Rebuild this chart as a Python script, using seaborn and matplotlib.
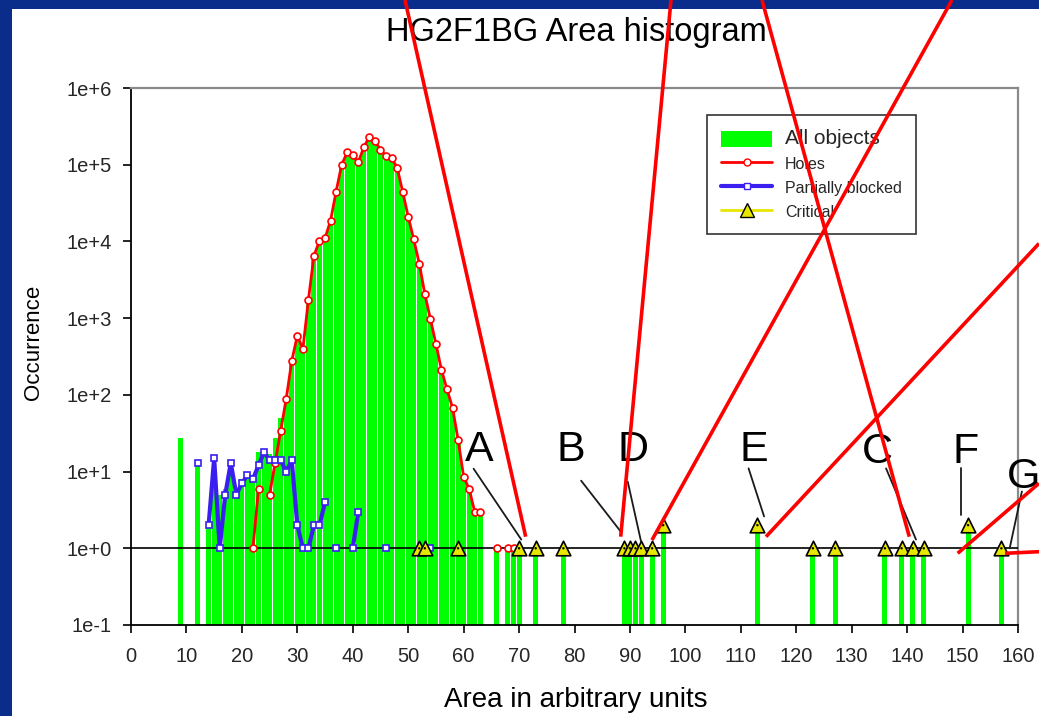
import numpy as np
import pandas as pd
import matplotlib
matplotlib.use("Agg")
import matplotlib.pyplot as plt
from matplotlib.lines import Line2D
from matplotlib.patches import Patch, Rectangle
from matplotlib.ticker import FixedLocator, NullLocator
import seaborn as sns

# ---- histogram data -------------------------------------------------------
# All objects: area bin -> occurrence
area_all = [9, 12, 14, 15, 16, 17, 18, 19, 20, 21, 22, 23, 24, 25, 26, 27,
            28, 29, 30, 31, 32, 33, 34, 35, 36, 37, 38, 39, 40, 41, 42, 43,
            44, 45, 46, 47, 48, 49, 50, 51, 52, 53, 54, 55, 56, 57, 58, 59,
            60, 61, 62, 63, 66, 68, 69, 70, 73, 78, 89, 90, 91, 92, 94, 96,
            113, 123, 127, 136, 139, 141, 143, 151, 157]
count_all = [27, 13, 2, 9, 5, 6, 9, 6, 8, 9, 9, 18, 18, 17, 27, 50,
             90, 280, 600, 400, 1750, 6500, 10200, 11000, 18700, 45000, 100000, 145000, 132000, 108000, 170000, 233000,
             205000, 156000, 131000, 122000, 92000, 45000, 21000, 10600, 5150, 2070, 980, 460, 212, 118, 68, 26,
             9, 6, 3, 3, 1, 1, 1, 1, 1, 1, 1, 1, 1, 1, 1, 2,
             2, 1, 1, 1, 1, 1, 1, 2, 1]

# Holes
area_holes = [22, 23, 25, 26, 27, 28, 29, 30, 31, 32, 33, 34, 35, 36, 37, 38,
              39, 40, 41, 42, 43, 44, 45, 46, 47, 48, 49, 50, 51, 52, 53, 54,
              55, 56, 57, 58, 59, 60, 61, 62, 63, 66, 68, 69]
count_holes = [1, 6, 5, 13, 34, 89, 277, 593, 393, 1730, 6490, 10200, 11000, 18700, 44700, 99600,
               145000, 132000, 108000, 169000, 233000, 205000, 156000, 131000, 122000, 91900, 44700, 21100, 10600, 5150, 2070, 980,
               462, 212, 118, 68, 26, 8.6, 5.9, 3, 3, 1, 1, 1]

# Partially blocked
area_blocked = [12, 14, 15, 16, 17, 18, 19, 20, 21, 22, 23, 24, 25, 26, 27, 28,
                29, 30, 31, 32, 33, 34, 35, 37, 40, 41, 46, 54]
count_blocked = [13, 2, 15, 1, 5, 13, 5, 7, 9, 8, 12, 18, 14, 14, 14, 10,
                 14, 2, 1, 1, 2, 2, 4, 1, 1, 3, 1, 1]

# Critical
area_critical = [52, 53, 59, 70, 73, 78, 89, 90, 91, 92, 94, 96, 113, 123,
                 127, 136, 139, 141, 143, 151, 157]
count_critical = [1, 1, 1, 1, 1, 1, 1, 1, 1, 1, 1, 2, 2, 1,
                  1, 1, 1, 1, 1, 2, 1]

x_ticks = list(range(0, 161, 10))
y_ticks = [1e-1, 1e0, 1e1, 1e2, 1e3, 1e4, 1e5, 1e6]
y_ticklabels = ["1e-1", "1e+0", "1e+1", "1e+2", "1e+3", "1e+4", "1e+5", "1e+6"]

# callout letters: label, text position, leader start, leader end (data coords)
callouts = [
    ("A", (62.9, 19.3), (61.8, 10.9), (70.4, 1.30)),
    ("B", (79.4, 19.3), (81.2, 7.6), (88.4, 1.63)),
    ("D", (90.5, 19.3), (89.6, 7.4), (92.0, 1.23)),
    ("E", (112.4, 19.3), (111.4, 11.0), (114.2, 2.6)),
    ("C", (134.6, 18.2), (136.2, 11.0), (141.6, 1.30)),
    ("F", (150.6, 18.2), (149.8, 11.0), (149.8, 2.68)),
    ("G", (161.1, 8.4), (160.7, 5.5), (158.5, 1.0)),
]

# slide pointer lines, in figure pixels
W, H = 1039, 716
pointers = [
    ((405, 0), (525.7, 536.7)),
    ((671, 0), (620.7, 536.7)),
    ((762, 0), (909.3, 536.7)),
    ((952, 0), (652, 540)),
    ((1039, 243.5), (766, 536.7)),
    ((1039, 483.3), (957.7, 553.3)),
    ((1039, 551.7), (1005, 553.3)),
]

GREEN = "#00ff00"
RED = "#ff0000"
BLUE = "#3a1ff0"
YELLOW = "#e6e600"
SLIDE_BLUE = "#0a2c8a"


def segments(xs):
    """Group consecutive bins so that empty bins break the line."""
    xs = np.asarray(xs)
    return np.concatenate([[0], np.cumsum(np.diff(xs) > 1)])


sns.set_style("white")
plt.rcParams["font.family"] = ["Liberation Sans", "DejaVu Sans"]

fig = plt.figure(figsize=(W / 100, H / 100), dpi=100)
fig.patch.set_facecolor(SLIDE_BLUE)
fig.add_artist(Rectangle((12 / W, 0), 1 - 12 / W, 1 - 9 / H,
                         transform=fig.transFigure, facecolor="white",
                         edgecolor="none", zorder=-5))

ax = fig.add_axes([131 / W, 1 - 625 / H, (1018 - 131) / W, (625 - 88) / H])
ax.set_facecolor("white")

df_all = pd.DataFrame({"area": area_all, "count": count_all})
sns.barplot(data=df_all, x="area", y="count", native_scale=True,
            width=0.9, color=GREEN, saturation=1, errorbar=None, ax=ax,
            linewidth=0, edgecolor="none", zorder=2)
ax.set_yscale("log")

ax.axhline(1, color="black", lw=1.2, zorder=3)

df_holes = pd.DataFrame({"area": area_holes, "count": count_holes,
                         "seg": segments(area_holes)})
sns.lineplot(data=df_holes, x="area", y="count", units="seg", estimator=None,
             color=RED, lw=2, marker="o", markersize=5,
             markerfacecolor="white", markeredgecolor=RED,
             markeredgewidth=1.2, ax=ax, zorder=4, legend=False)

df_blocked = pd.DataFrame({"area": area_blocked, "count": count_blocked,
                           "seg": segments(area_blocked)})
sns.lineplot(data=df_blocked, x="area", y="count", units="seg",
             estimator=None, color=BLUE, lw=3, marker="s", markersize=5,
             markerfacecolor="white", markeredgecolor=BLUE,
             markeredgewidth=1.2, ax=ax, zorder=5, legend=False)

sns.scatterplot(x=area_critical, y=count_critical, marker="^", s=110,
                color=YELLOW, edgecolor="black", linewidth=1.2, ax=ax,
                zorder=6, legend=False)
sns.scatterplot(x=area_critical, y=count_critical, marker="o", s=3,
                color="black", edgecolor="none", ax=ax, zorder=7,
                legend=False)

for label, txt, start, end in callouts:
    ax.text(*txt, label, fontsize=31, ha="center", va="center",
            color="black", zorder=8, clip_on=False)
    ax.plot([start[0], end[0]], [start[1], end[1]], color="#1a1a1a",
            lw=1.3, zorder=8, clip_on=False)

ax.set_xlim(0, 160)
ax.set_ylim(0.1, 1e6)
ax.xaxis.set_major_locator(FixedLocator(x_ticks))
ax.set_xticklabels([str(t) for t in x_ticks])
ax.yaxis.set_major_locator(FixedLocator(y_ticks))
ax.yaxis.set_minor_locator(NullLocator())
ax.set_yticklabels(y_ticklabels)
ax.tick_params(axis="both", which="major", direction="out", length=6,
               width=1.2, color="black", labelsize=14.5,
               bottom=True, left=True)
ax.tick_params(axis="x", pad=10)
ax.tick_params(axis="y", pad=8)
ax.set_xlabel("")
ax.set_ylabel("")
for side in ("left", "bottom"):
    ax.spines[side].set_color("black")
    ax.spines[side].set_linewidth(1.3)
for side in ("top", "right"):
    ax.spines[side].set_color("#8a8a8a")
    ax.spines[side].set_linewidth(1.6)
    ax.spines[side].set_visible(True)

handles = [
    Patch(facecolor=GREEN, edgecolor="none"),
    Line2D([], [], color=RED, lw=2, marker="o", ms=5, mfc="white", mec=RED),
    Line2D([], [], color=BLUE, lw=3, marker="s", ms=5, mfc="white", mec=BLUE),
    Line2D([], [], color=YELLOW, lw=2, marker="^", ms=10, mfc=YELLOW,
           mec="black"),
]
leg = ax.legend(handles, ["All objects", "Holes", "Partially blocked",
                          "Critical"],
                loc="upper left", bbox_to_anchor=(0.649, 0.95),
                borderaxespad=0, frameon=True, fancybox=False,
                edgecolor="#333333", framealpha=1, fontsize=11.5,
                handlelength=3.2, handleheight=1.2, borderpad=0.9,
                labelspacing=0.45, handletextpad=0.8)
leg.get_frame().set_linewidth(1.2)
leg.get_texts()[0].set_fontsize(15)
leg.set_zorder(9)

fig.text(576 / W, 1 - 33 / H, "HG2F1BG Area histogram", fontsize=23.5,
         ha="center", va="center", color="black")
fig.text(576 / W, 1 - 700 / H, "Area in arbitrary units", fontsize=20,
         ha="center", va="center", color="black")
fig.text(33 / W, 1 - 342 / H, "Occurrence", fontsize=16, rotation=90,
         ha="center", va="center", color="black")

for (x0, y0), (x1, y1) in pointers:
    fig.add_artist(Line2D([x0 / W, x1 / W], [1 - y0 / H, 1 - y1 / H],
                          transform=fig.transFigure, color=RED, lw=2.6,
                          zorder=20, solid_capstyle="butt"))

fig.savefig("out.png", dpi=100, facecolor=fig.get_facecolor())
